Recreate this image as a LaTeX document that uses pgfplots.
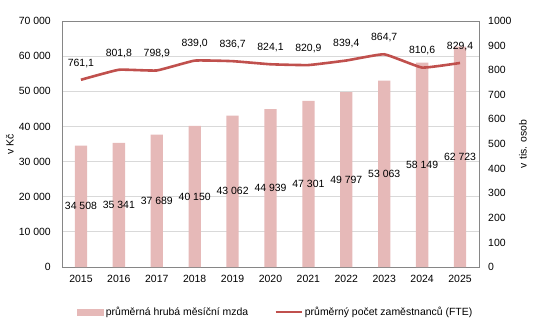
\documentclass[border=0pt]{standalone}
\usepackage{fontspec}
\setmainfont{Liberation Sans}
\usepackage{pgfplots}
\pgfplotsset{compat=1.18}
\definecolor{mzda}{RGB}{230,185,184}
\definecolor{fte}{RGB}{192,80,77}
\definecolor{ramec}{RGB}{134,134,134}
\definecolor{mrizka}{RGB}{217,217,217}
\pgfplotsset{/pgf/number format/assume math mode=true}

\begin{document}
\fontsize{10.5}{12.6}\selectfont
\begin{tikzpicture}
\pgfplotsset{
  spolecne/.style={
    width=417bp, height=246bp, scale only axis,
    xmin=2014.5, xmax=2025.5,
    major tick length=0pt,
    tick label style={font=\fontsize{10.5}{12.6}\selectfont},
    axis line style={ramec, line width=0.8bp},
    clip=false,
  }
}
% mzda (leva osa)
\begin{axis}[spolecne,
  ymin=0, ymax=70000, ytick={0,10000,...,70000},
  scaled y ticks=false,
  xtick={2015,...,2025}, xtick pos=bottom, ytick pos=left,
  x tick label style={/pgf/number format/1000 sep={}, yshift=-4.5bp},
  y tick label style={/pgf/number format/1000 sep={\ }, xshift=-7.5bp},
  ymajorgrids, grid style={mrizka, line width=0.8bp},
]
\addplot[ybar, bar width=12.3bp, fill=mzda, draw=none,
  nodes near coords={\pgfmathprintnumber[1000 sep={\ }]{\pgfplotspointmeta}},
  visualization depends on={y \as \yv},
  every node near coord/.append style={anchor=center, text=black,
    shift={(axis direction cs:0,-\yv/2)}},
] coordinates {
  (2015,34508) (2016,35341) (2017,37689) (2018,40150) (2019,43062) (2020,44939)
  (2021,47301) (2022,49797) (2023,53063) (2024,58149) (2025,62723)};
\node[rotate=90] at (axis description cs:-0.125,0.5) {v Kč};
\end{axis}
% zamestnanci (prava osa)
\begin{axis}[spolecne,
  ymin=0, ymax=1000, ytick={0,100,...,1000},
  axis y line*=right, axis x line=none,
  y tick label style={/pgf/number format/1000 sep={}, xshift=5.5bp},
  legend columns=2,
  legend style={at={(0.513,-0.183)}, anchor=center, draw=none, fill=none,
    font=\fontsize{10.5}{12.6}\selectfont,
    /tikz/every even column/.append style={column sep=24bp}},
  legend cell align=left,
]
\addlegendimage{legend image code/.code={\fill[mzda] (0bp,-2.8bp) rectangle (26bp,2.8bp);}}
\addlegendentry{průměrná hrubá měsíční mzda}
\addplot[fte, line width=2.6bp, smooth, tension=0.2,
  legend image code/.code={\draw[fte, line width=2.6bp] (0bp,0bp) -- (26bp,0bp);},
  nodes near coords={\pgfmathprintnumber[fixed, fixed zerofill, precision=1, use comma]{\pgfplotspointmeta}},
  every node near coord/.append style={text=black, anchor=south, yshift=7.5bp},
] coordinates {
  (2015,761.1) (2016,801.8) (2017,798.9) (2018,839.0) (2019,836.7) (2020,824.1)
  (2021,820.9) (2022,839.4) (2023,864.7) (2024,810.6) (2025,829.4)};
\addlegendentry{průměrný počet zaměstnanců (FTE)}
\node[rotate=90] at (axis description cs:1.1055,0.5) {v tis. osob};
\end{axis}
\pgfresetboundingbox
\path (-62bp,-63bp) rectangle (487bp,267bp);
\end{tikzpicture}
\end{document}
